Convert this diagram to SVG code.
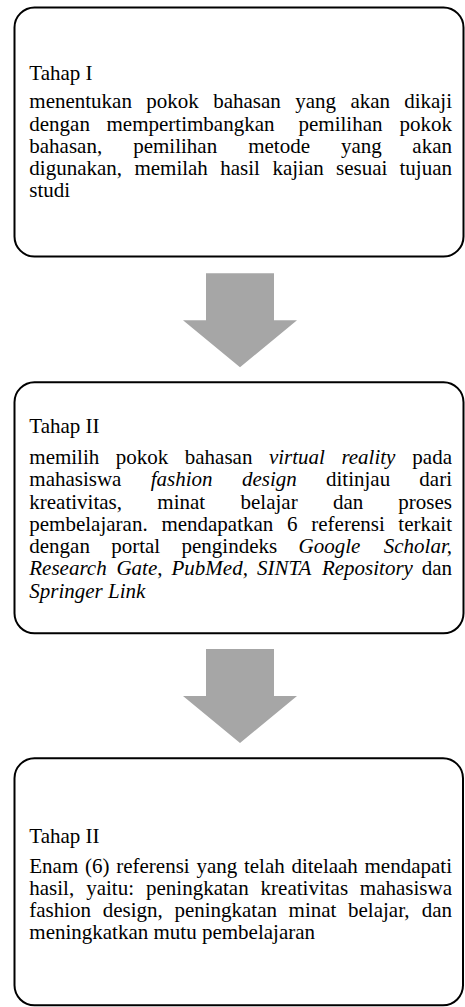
<svg xmlns="http://www.w3.org/2000/svg" width="465" height="1007" viewBox="0 0 465 1007">
  <style>
    .box { fill: #ffffff; stroke: #000000; stroke-width: 2; }
    .arrow { fill: #a6a6a6; stroke: none; }
    text { font-family: "Liberation Serif", "Times New Roman", Times, serif; font-size: 21px; fill: #000000; }
    .i { font-style: italic; }
    .e { text-anchor: end; }
  </style>
  <defs>
    <!-- block arrow pointing down, origin at top of shaft -->
    <polygon id="down-arrow" points="206,0 274,0 274,47 297,47 240,94 183,47 206,47"/>
  </defs>

  <rect width="465" height="1007" fill="#ffffff"/>

  <!-- connectors -->
  <g id="connectors">
    <use href="#down-arrow" class="arrow" transform="translate(0,273.3)"/>
    <use href="#down-arrow" class="arrow" transform="translate(0,649)"/>
  </g>

  <!-- Stage I: justified paragraph, words placed per line -->
  <g id="tahap-1">
    <rect class="box" x="14.5" y="7.5" width="449" height="249" rx="20" ry="20"/>
    <text x="29.3" y="80">Tahap I</text>
    <text y="108.3"><tspan x="29.3">menentukan</tspan><tspan x="146.3">pokok</tspan><tspan x="213.2">bahasan</tspan><tspan x="295.2">yang</tspan><tspan x="350.4">akan</tspan><tspan x="452" class="e">dikaji</tspan></text>
    <text y="130.55"><tspan x="29.3">dengan</tspan><tspan x="106.5">mempertimbangkan</tspan><tspan x="298.5">pemilihan</tspan><tspan x="452" class="e">pokok</tspan></text>
    <text y="152.8"><tspan x="29.3">bahasan,</tspan><tspan x="133.2">pemilihan</tspan><tspan x="248.2">metode</tspan><tspan x="341">yang</tspan><tspan x="452" class="e">akan</tspan></text>
    <text y="175.05"><tspan x="29.3">digunakan,</tspan><tspan x="134.4">memilah</tspan><tspan x="220.3">hasil</tspan><tspan x="272.4">kajian</tspan><tspan x="336.1">sesuai</tspan><tspan x="452" class="e">tujuan</tspan></text>
    <text x="29.3" y="197.3">studi</text>
  </g>

  <!-- Stage II -->
  <g id="tahap-2">
    <rect class="box" x="14.5" y="382.3" width="449" height="251" rx="20" ry="20"/>
    <text x="29.3" y="433.3">Tahap II</text>
    <text y="464"><tspan x="29.3">memilih</tspan><tspan x="115.8">pokok</tspan><tspan x="184.8">bahasan</tspan><tspan x="268.9" class="i">virtual</tspan><tspan x="341.4" class="i">reality</tspan><tspan x="452" class="e">pada</tspan></text>
    <text y="486.25"><tspan x="29.3">mahasiswa</tspan><tspan x="150.7" class="i">fashion</tspan><tspan x="241.9" class="i">design</tspan><tspan x="326">ditinjau</tspan><tspan x="452" class="e">dari</tspan></text>
    <text y="508.5"><tspan x="29.3">kreativitas,</tspan><tspan x="157.3">minat</tspan><tspan x="240.5">belajar</tspan><tspan x="332.9">dan</tspan><tspan x="452" class="e">proses</tspan></text>
    <text y="530.75"><tspan x="29.3">pembelajaran.</tspan><tspan x="161.4">mendapatkan</tspan><tspan x="287.1">6</tspan><tspan x="311.3">referensi</tspan><tspan x="452" class="e">terkait</tspan></text>
    <text y="553"><tspan x="29.3">dengan</tspan><tspan x="111.2">portal</tspan><tspan x="181.5">pengindeks</tspan><tspan x="298.5" class="i">Google</tspan><tspan x="452" class="e i">Scholar,</tspan></text>
    <text y="575.25"><tspan x="29.3" class="i">Research</tspan><tspan x="116.4" class="i">Gate</tspan><tspan>,</tspan><tspan x="171.5" class="i">PubMed,</tspan><tspan x="256.9" class="i">SINTA</tspan><tspan x="321.9" class="i">Repository</tspan><tspan x="452" class="e">dan</tspan></text>
    <text x="29.3" y="597.5" class="i">Springer Link</text>
  </g>

  <!-- Stage III (printed label reads "Tahap II") -->
  <g id="tahap-3">
    <rect class="box" x="14.5" y="758.3" width="448.5" height="247" rx="20" ry="20"/>
    <text x="29.3" y="843.3">Tahap II</text>
    <text y="872.7"><tspan x="29.3">Enam</tspan><tspan x="85">(6)</tspan><tspan x="116.2">referensi</tspan><tspan x="196.4">yang</tspan><tspan x="243.9">telah</tspan><tspan x="291.4">ditelaah</tspan><tspan x="452" class="e">mendapati</tspan></text>
    <text y="894.95"><tspan x="29.3">hasil,</tspan><tspan x="86.2">yaitu:</tspan><tspan x="146">peningkatan</tspan><tspan x="260.6">kreativitas</tspan><tspan x="452" class="e">mahasiswa</tspan></text>
    <text y="917.2"><tspan x="29.3">fashion</tspan><tspan x="102.7">design,</tspan><tspan x="174.4">peningkatan</tspan><tspan x="288.6">minat</tspan><tspan x="348">belajar,</tspan><tspan x="452" class="e">dan</tspan></text>
    <text x="29.3" y="939.45">meningkatkan mutu pembelajaran</text>
  </g>
</svg>
